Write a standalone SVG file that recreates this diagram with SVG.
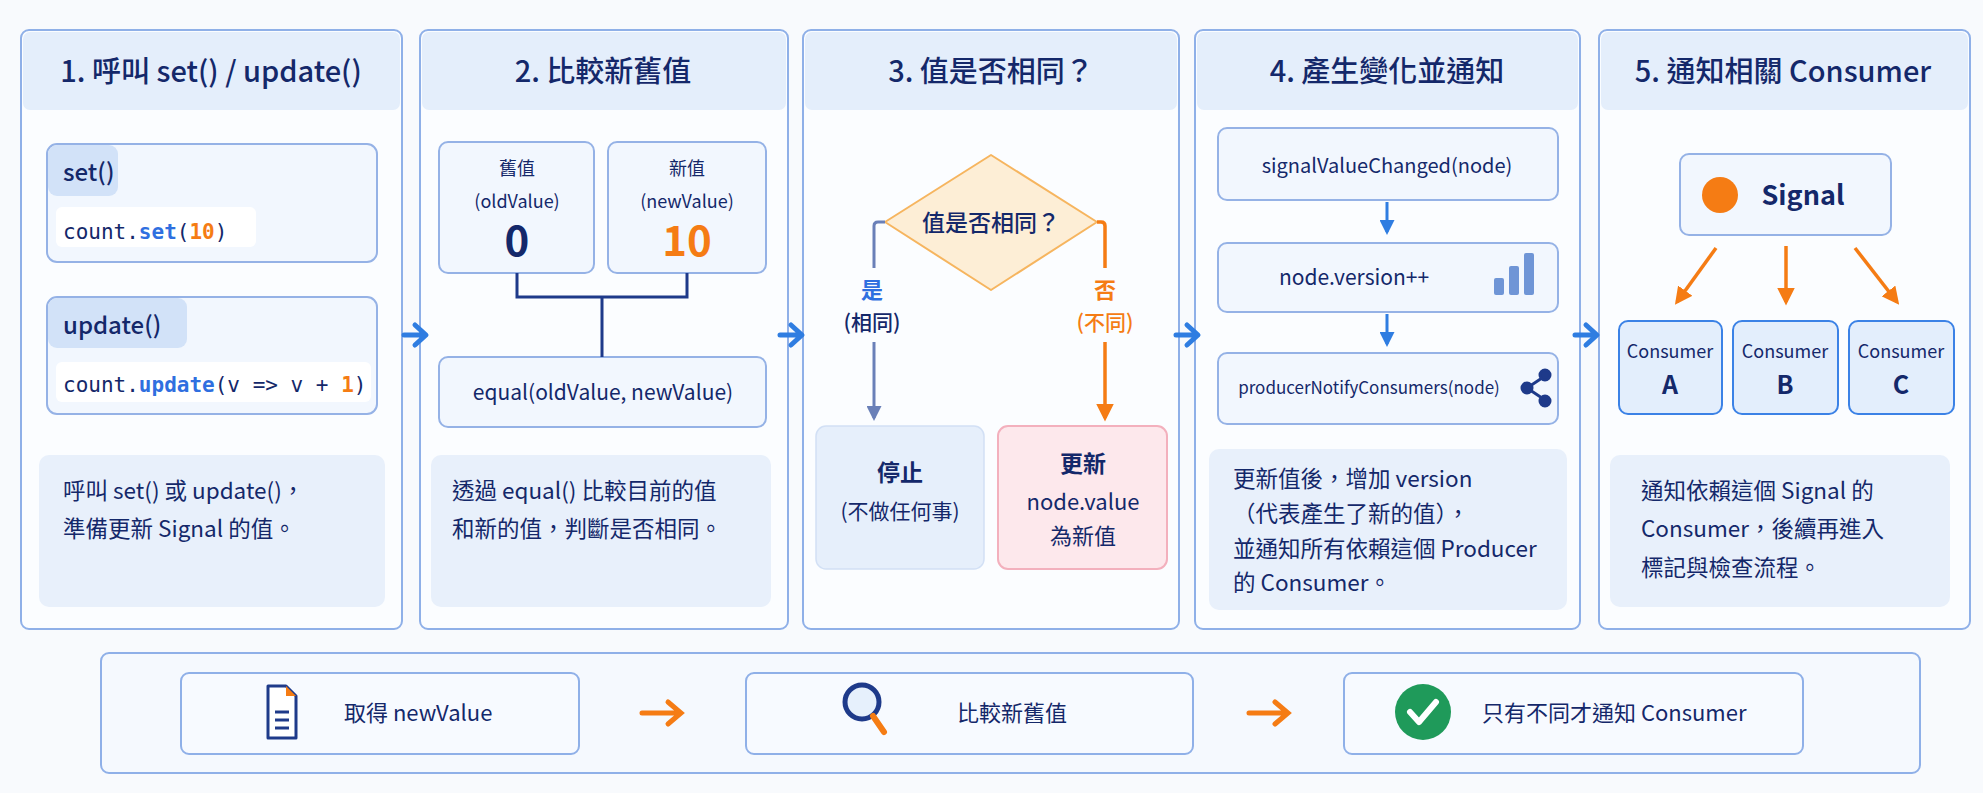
<svg xmlns="http://www.w3.org/2000/svg" width="1983" height="793" viewBox="0 0 1983 793">
<style>
text{font-family:"Noto Sans CJK TC","Noto Sans",sans-serif;fill:#14286a}
.h{font-size:29px;font-weight:500;text-anchor:middle}
.panel{fill:#fbfdff;stroke:#8fb0e8;stroke-width:2}
.hd{fill:#e4eefb}
.box{fill:#f2f7fe;stroke:#95b2e6;stroke-width:2}
.desc{fill:#e8f0fb}
.d{font-size:22.5px}
.m{font-family:"DejaVu Sans Mono","Liberation Mono",monospace;font-size:21px}
.c{text-anchor:middle}
.blue{stroke:#2f7de1;stroke-width:5;fill:none;stroke-linecap:round;stroke-linejoin:round}
.or{stroke:#f57c14;stroke-width:3.5;fill:none}
</style>
<defs>
<marker id="ao" viewBox="0 0 10 10" refX="8" refY="5" markerWidth="5" markerHeight="5" orient="auto"><path d="M0,0L10,5L0,10z" fill="#f57c14"/></marker>
<marker id="ab" viewBox="0 0 10 10" refX="8" refY="5" markerWidth="5" markerHeight="5" orient="auto"><path d="M0,0L10,5L0,10z" fill="#2f7de1"/></marker>
<marker id="ag" viewBox="0 0 10 10" refX="8" refY="5" markerWidth="5" markerHeight="5" orient="auto"><path d="M0,0L10,5L0,10z" fill="#6a80b8"/></marker>
</defs>
<rect width="1983" height="793" fill="#f8fafd"/>

<g id="panel1">
<rect class="panel" x="21" y="30" width="381" height="599" rx="8"/>
<rect class="hd" x="23" y="32" width="377" height="78" rx="7"/>
<text class="h" x="211" y="82">1. 呼叫 set() / update()</text>
<rect class="box" x="47" y="144" width="330" height="118" rx="10"/>
<rect x="48" y="145" width="70" height="51" rx="9" fill="#d2e2f8"/>
<text x="63" y="181" font-size="24" font-weight="500">set()</text>
<rect x="56" y="207" width="200" height="40" rx="6" fill="#fff"/>
<text class="m" x="63" y="239">count.<tspan fill="#2f6fe0" font-weight="700">set</tspan>(<tspan fill="#f57c14" font-weight="700">10</tspan>)</text>
<rect class="box" x="47" y="297" width="330" height="117" rx="10"/>
<rect x="48" y="298" width="139" height="50" rx="9" fill="#d2e2f8"/>
<text x="63" y="334" font-size="24" font-weight="500">update()</text>
<rect x="56" y="362" width="315" height="40" rx="6" fill="#fff"/>
<text class="m" x="63" y="392">count.<tspan fill="#2f6fe0" font-weight="700">update</tspan>(v =&gt; v + <tspan fill="#f57c14" font-weight="700">1</tspan>)</text>
<rect class="desc" x="39" y="455" width="346" height="152" rx="10"/>
<text class="d" x="63" y="499">呼叫 set() 或 update()，</text>
<text class="d" x="63" y="537">準備更新 Signal 的值。</text>
</g>

<g id="panel2">
<rect class="panel" x="420" y="30" width="368" height="599" rx="8"/>
<rect class="hd" x="422" y="32" width="364" height="78" rx="7"/>
<text class="h" x="603" y="82">2. 比較新舊值</text>
<rect class="box" x="439" y="142" width="155" height="131" rx="9"/>
<rect class="box" x="608" y="142" width="158" height="131" rx="9"/>
<text class="c" x="517" y="175" font-size="18">舊值</text>
<text class="c" x="517" y="208" font-size="18">(oldValue)</text>
<text class="c" x="517" y="256" font-size="42" font-weight="700">0</text>
<text class="c" x="687" y="175" font-size="18">新值</text>
<text class="c" x="687" y="208" font-size="18">(newValue)</text>
<text class="c" x="687" y="256" font-size="42" font-weight="700" style="fill:#f57c14">10</text>
<rect class="box" x="439" y="357" width="327" height="70" rx="9"/>
<text class="c" x="603" y="400" font-size="21">equal(oldValue, newValue)</text>
<rect class="desc" x="431" y="455" width="340" height="152" rx="10"/>
<text class="d" x="452" y="499">透過 equal() 比較目前的值</text>
<text class="d" x="452" y="537">和新的值，判斷是否相同。</text>
</g>

<g id="panel3">
<rect class="panel" x="803" y="30" width="376" height="599" rx="8"/>
<rect class="hd" x="805" y="32" width="372" height="78" rx="7"/>
<text class="h" x="991" y="82">3. 值是否相同？</text>
<path d="M991,155 L1097,222 L991,290 L885,222 Z" fill="#fdeed6" stroke="#f6b55f" stroke-width="2" stroke-linejoin="round"/>
<text class="c" x="991" y="231" font-size="23" font-weight="500">值是否相同？</text>
<text class="c" x="872" y="298" font-size="22" font-weight="700" style="fill:#2f6fe0">是</text>
<text class="c" x="872" y="330" font-size="21" font-weight="500">(相同)</text>
<text class="c" x="1105" y="298" font-size="22" font-weight="700" style="fill:#f57c14">否</text>
<text class="c" x="1105" y="330" font-size="21" font-weight="500" style="fill:#f57c14">(不同)</text>
<rect x="816" y="426" width="168" height="143" rx="10" fill="#e6effb" stroke="#d2e0f5" stroke-width="1.5"/>
<text class="c" x="900" y="481" font-size="23" font-weight="700">停止</text>
<text class="c" x="900" y="519" font-size="21">(不做任何事)</text>
<rect x="998" y="426" width="169" height="143" rx="10" fill="#fde8ec" stroke="#f3b0bd" stroke-width="2"/>
<text class="c" x="1083" y="472" font-size="23" font-weight="700">更新</text>
<text class="c" x="1083" y="510" font-size="22">node.value</text>
<text class="c" x="1083" y="544" font-size="22">為新值</text>
</g>

<g id="panel4">
<rect class="panel" x="1195" y="30" width="385" height="599" rx="8"/>
<rect class="hd" x="1197" y="32" width="381" height="78" rx="7"/>
<text class="h" x="1387" y="82">4. 產生變化並通知</text>
<rect class="box" x="1218" y="128" width="340" height="72" rx="9"/>
<text class="c" x="1387" y="173" font-size="20">signalValueChanged(node)</text>
<rect class="box" x="1218" y="243" width="340" height="69" rx="9"/>
<text class="c" x="1354" y="285" font-size="21">node.version++</text>
<g fill="#6f95d6"><rect x="1494" y="278" width="10" height="17" rx="2"/><rect x="1509" y="266" width="10" height="29" rx="2"/><rect x="1524" y="253" width="10" height="42" rx="2"/></g>
<rect class="box" x="1218" y="353" width="340" height="71" rx="9"/>
<text class="c" x="1369" y="394" font-size="17">producerNotifyConsumers(node)</text>
<g fill="#1e3a8a" stroke="#1e3a8a" stroke-width="3"><line x1="1527" y1="388" x2="1545" y2="376"/><line x1="1527" y1="388" x2="1545" y2="400"/><circle cx="1527" cy="388" r="5"/><circle cx="1545" cy="375" r="5"/><circle cx="1545" cy="401" r="5"/></g>
<rect class="desc" x="1209" y="449" width="358" height="161" rx="10"/>
<text class="d" x="1233" y="487">更新值後，增加 version</text>
<text class="d" x="1233" y="522">（代表產生了新的值），</text>
<text class="d" x="1233" y="557">並通知所有依賴這個 Producer</text>
<text class="d" x="1233" y="591">的 Consumer。</text>
</g>

<g id="panel5">
<rect class="panel" x="1599" y="30" width="371" height="599" rx="8"/>
<rect class="hd" x="1601" y="32" width="367" height="78" rx="7"/>
<text class="h" x="1783" y="82">5. 通知相關 Consumer</text>
<rect class="box" x="1680" y="154" width="211" height="81" rx="9" stroke="#4f6fb0"/>
<circle cx="1720" cy="195" r="18" fill="#f57c14"/>
<text class="c" x="1803" y="205" font-size="27" font-weight="700">Signal</text>
<g fill="#e3eefc" stroke="#3b82e6" stroke-width="2">
<rect x="1619" y="321" width="103" height="93" rx="9"/>
<rect x="1733" y="321" width="105" height="93" rx="9"/>
<rect x="1849" y="321" width="105" height="93" rx="9"/>
</g>
<text class="c" x="1670" y="358" font-size="18">Consumer</text>
<text class="c" x="1670" y="394" font-size="25" font-weight="700">A</text>
<text class="c" x="1785" y="358" font-size="18">Consumer</text>
<text class="c" x="1785" y="394" font-size="25" font-weight="700">B</text>
<text class="c" x="1901" y="358" font-size="18">Consumer</text>
<text class="c" x="1901" y="394" font-size="25" font-weight="700">C</text>
<rect class="desc" x="1610" y="455" width="340" height="152" rx="10"/>
<text class="d" x="1641" y="499">通知依賴這個 Signal 的</text>
<text class="d" x="1641" y="537">Consumer，後續再進入</text>
<text class="d" x="1641" y="576">標記與檢查流程。</text>
</g>

<g id="bottom">
<rect x="101" y="653" width="1819" height="120" rx="8" fill="#f5f9fe" stroke="#8fb0e8" stroke-width="2"/>
<rect x="181" y="673" width="398" height="81" rx="8" fill="#f7faff" stroke="#8fb0e8" stroke-width="2"/>
<path d="M268,686 h18 l10,10 v42 h-28 z" fill="#fff" stroke="#1e3a8a" stroke-width="3" stroke-linejoin="round"/>
<path d="M286,686 v10 h10" fill="#f57c14"/>
<g stroke="#1e3a8a" stroke-width="3"><line x1="275" y1="712" x2="289" y2="712"/><line x1="275" y1="720" x2="289" y2="720"/><line x1="275" y1="728" x2="289" y2="728"/></g>
<text x="344" y="721" font-size="22">取得 newValue</text>
<rect x="746" y="673" width="447" height="81" rx="8" fill="#f7faff" stroke="#8fb0e8" stroke-width="2"/>
<circle cx="862" cy="702" r="17" fill="#e6f0fc" stroke="#1e3a8a" stroke-width="5"/>
<line x1="873" y1="716" x2="884" y2="732" stroke="#f57c14" stroke-width="6" stroke-linecap="round"/>
<text class="c" x="1012" y="721" font-size="22">比較新舊值</text>
<rect x="1344" y="673" width="459" height="81" rx="8" fill="#f7faff" stroke="#8fb0e8" stroke-width="2"/>
<circle cx="1423" cy="712" r="28" fill="#1f9a5a"/>
<path d="M1410,712 l9,10 l17,-20" fill="none" stroke="#fff" stroke-width="6" stroke-linecap="round" stroke-linejoin="round"/>
<text x="1482" y="721" font-size="22">只有不同才通知 Consumer</text>
</g>

<g id="connectors">
<path class="blue" d="M404,335 H424 M415,325 L426,335 L415,345"/>
<path class="blue" d="M780,335 H800 M791,325 L802,335 L791,345"/>
<path class="blue" d="M1176,335 H1196 M1187,325 L1198,335 L1187,345"/>
<path class="blue" d="M1575,335 H1595 M1586,325 L1597,335 L1586,345"/>
<path d="M885,222 H878 Q874,222 874,226 V268" fill="none" stroke="#6a80b8" stroke-width="3"/>
<path d="M874,342 V418" fill="none" stroke="#6a80b8" stroke-width="3" marker-end="url(#ag)"/>
<path d="M1097,222 H1101 Q1105,222 1105,226 V268" class="or"/>
<path d="M1105,342 V418" class="or" marker-end="url(#ao)"/>
<path d="M1387,202 V232" stroke="#2f7de1" stroke-width="3" fill="none" marker-end="url(#ab)"/>
<path d="M1387,314 V344" stroke="#2f7de1" stroke-width="3" fill="none" marker-end="url(#ab)"/>
<path d="M1716,248 L1677,302" class="or" marker-end="url(#ao)"/>
<path d="M1786,246 V302" class="or" marker-end="url(#ao)"/>
<path d="M1855,248 L1897,302" class="or" marker-end="url(#ao)"/>
<path d="M642,713 H678 M668,702 L681,713 L668,724" stroke="#f57c14" stroke-width="5" fill="none" stroke-linecap="round"/>
<path d="M1249,713 H1285 M1275,702 L1288,713 L1275,724" stroke="#f57c14" stroke-width="5" fill="none" stroke-linecap="round"/>
<path d="M517,273 V297 H687 V273 M602,297 V357" stroke="#1e3a8a" stroke-width="3" fill="none"/>
</g>
</svg>
